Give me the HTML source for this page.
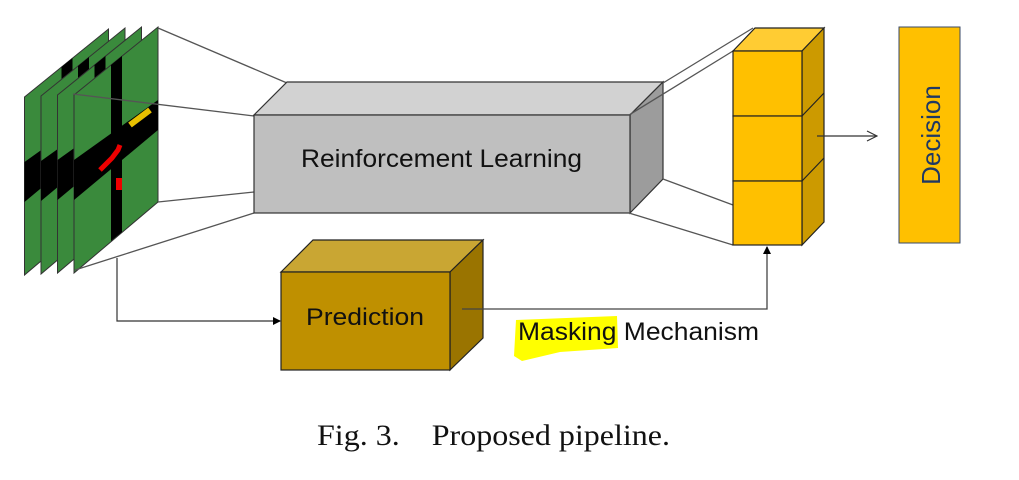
<!DOCTYPE html>
<html><head><meta charset="utf-8"><style>
html,body{margin:0;padding:0;background:#fff;width:1019px;height:480px;overflow:hidden}
svg{display:block}
</style></head><body>
<svg width="1019" height="480" viewBox="0 0 1019 480" xmlns="http://www.w3.org/2000/svg">
<defs>
<marker id="ah" markerWidth="8" markerHeight="8" refX="7" refY="4" orient="auto" markerUnits="userSpaceOnUse">
<path d="M0,0 L8,4 L0,8 z" fill="#000"/></marker>
<marker id="oa" markerWidth="12" markerHeight="12" refX="11" refY="6" orient="auto" markerUnits="userSpaceOnUse">
<path d="M1,1 L11,6 L1,11" fill="none" stroke="#333" stroke-width="1.2"/></marker>
</defs>

<!-- frames -->
<g stroke="#333" stroke-width="1">
<g transform="translate(-49.5,2)">
<polygon points="74,95 158,27 158,202 74,273" fill="#3a8a3c"/>
<polygon points="74,160 158,100 158,130 74,200" fill="#000" stroke="none"/>
<polygon points="111,65 122,56 122,120 111,130" fill="#000" stroke="none"/>
</g>
<g transform="translate(-33,1)">
<polygon points="74,95 158,27 158,202 74,273" fill="#3a8a3c"/>
<polygon points="74,160 158,100 158,130 74,200" fill="#000" stroke="none"/>
<polygon points="111,65 122,56 122,120 111,130" fill="#000" stroke="none"/>
</g>
<g transform="translate(-16.5,0)">
<polygon points="74,95 158,27 158,202 74,273" fill="#3a8a3c"/>
<polygon points="74,160 158,100 158,130 74,200" fill="#000" stroke="none"/>
<polygon points="111,65 122,56 122,120 111,130" fill="#000" stroke="none"/>
</g>
<g>
<polygon points="74,95 158,27 158,202 74,273" fill="#3a8a3c"/>
<polygon points="74,160 158,100 158,130 74,200" fill="#000" stroke="none"/>
<polygon points="111,65 122,56 122,232 111,241" fill="#000" stroke="none"/>
<path d="M100,170 L112,158 L118,150 L120,145" stroke="#e00" stroke-width="5" fill="none"/>
<rect x="116" y="178" width="6" height="12" fill="#e00" stroke="none"/>
<path d="M130,125 L150,110" stroke="#e8c000" stroke-width="6" fill="none"/>
</g>
</g>

<!-- frame to gray lines -->
<g stroke="#555" stroke-width="1.3">
<line x1="158" y1="28" x2="287" y2="83"/>
<line x1="73" y1="94" x2="254" y2="116"/>
<line x1="158" y1="202" x2="254" y2="192"/>
<line x1="75" y1="270" x2="254" y2="213"/>
</g>

<!-- gray box -->
<g stroke="#333" stroke-width="1.2">
<polygon points="254,115 287,82 663,82 630,115" fill="#d2d2d2"/>
<polygon points="630,115 663,82 663,179 630,213" fill="#9c9c9c"/>
<rect x="254" y="115" width="376" height="98" fill="#bfbfbf"/>
</g>
<text x="301" y="167" font-family="Liberation Sans, sans-serif" font-size="25" fill="#111" textLength="281" lengthAdjust="spacingAndGlyphs">Reinforcement Learning</text>

<!-- gray to yellow lines -->
<g stroke="#555" stroke-width="1.3">
<line x1="663" y1="83" x2="753" y2="28"/>
<line x1="629" y1="115" x2="733" y2="51"/>
<line x1="663" y1="179" x2="733" y2="205"/>
<line x1="629" y1="213" x2="733" y2="245"/>
</g>

<!-- yellow stack -->
<g stroke="#222" stroke-width="1.2">
<polygon points="733,51 755,28 824,28 802,51" fill="#ffcc33"/>
<polygon points="802,51 824,28 824,222 802,245" fill="#cc9a00"/>
<line x1="802" y1="116" x2="824" y2="93"/>
<line x1="802" y1="181" x2="824" y2="158"/>
<rect x="733" y="51" width="69" height="65" fill="#ffc000"/>
<rect x="733" y="116" width="69" height="65" fill="#ffc000"/>
<rect x="733" y="181" width="69" height="64" fill="#ffc000"/>
</g>
<line x1="817" y1="136" x2="877" y2="136" stroke="#333" stroke-width="1.3" marker-end="url(#oa)"/>

<!-- decision -->
<rect x="899" y="27" width="61" height="216" fill="#ffc000" stroke="#3a4a6a" stroke-width="1"/>
<text transform="translate(940,135) rotate(-90)" text-anchor="middle" font-family="Liberation Sans, sans-serif" font-size="26" fill="#1f3864">Decision</text>

<!-- prediction box -->
<g stroke="#222" stroke-width="1.2">
<polygon points="281,272 313,240 483,240 450,272" fill="#c9a633"/>
<polygon points="450,272 483,240 483,338 450,370" fill="#9a7400"/>
<rect x="281" y="272" width="169" height="98" fill="#bf9000"/>
</g>
<text x="306" y="325" font-family="Liberation Sans, sans-serif" font-size="24" fill="#111" textLength="118" lengthAdjust="spacingAndGlyphs">Prediction</text>

<!-- connectors -->
<polyline points="117,258 117,321 280,321" fill="none" stroke="#333" stroke-width="1.2" marker-end="url(#ah)"/>
<polyline points="462,309 767,309 767,247" fill="none" stroke="#444" stroke-width="1.3" marker-end="url(#ah)"/>

<!-- masking label -->
<path d="M516,320 L617,316 L618,348 L560,352 L522,361 L514,356 Z" fill="#ffff00"/>
<text x="518" y="340" font-family="Liberation Sans, sans-serif" font-size="25" fill="#111" textLength="241" lengthAdjust="spacingAndGlyphs">Masking Mechanism</text>

<!-- caption -->
<text x="317" y="445" font-family="Liberation Serif, serif" font-size="30" fill="#111" textLength="353" lengthAdjust="spacingAndGlyphs" xml:space="preserve">Fig. 3.    Proposed pipeline.</text>
</svg>
</body></html>
